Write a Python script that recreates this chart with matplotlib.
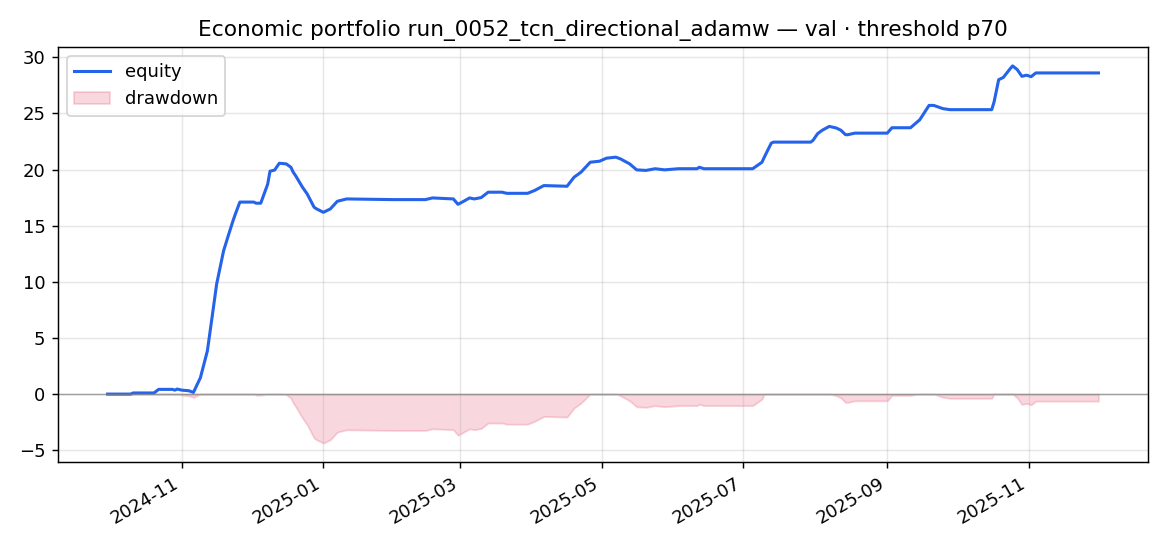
"""
Equity curve with drawdown band for one validation run.
Saves out.png
"""
import matplotlib
matplotlib.use("Agg")
import matplotlib.pyplot as plt
import matplotlib.dates as mdates
import pandas as pd

RUN = "run_0052_tcn_directional_adamw"
SPLIT = "val"
THRESH = "p70"

# equity (cumulative return, %)
dates = [
    "2024-09-30", "2024-10-10", "2024-10-11", "2024-10-20", "2024-10-22",
    "2024-10-28", "2024-10-29", "2024-10-30", "2024-11-01", "2024-11-04",
    "2024-11-06", "2024-11-09", "2024-11-12", "2024-11-14", "2024-11-16",
    "2024-11-19", "2024-11-21", "2024-11-23", "2024-11-24", "2024-11-26",
    "2024-12-02", "2024-12-03", "2024-12-05", "2024-12-08", "2024-12-09",
    "2024-12-11", "2024-12-13", "2024-12-16", "2024-12-18", "2024-12-19",
    "2024-12-20", "2024-12-23", "2024-12-25", "2024-12-28", "2024-12-29",
    "2025-01-01", "2025-01-04", "2025-01-07", "2025-01-11", "2025-01-31",
    "2025-02-14", "2025-02-17", "2025-02-26", "2025-02-28", "2025-03-02",
    "2025-03-05", "2025-03-07", "2025-03-10", "2025-03-13", "2025-03-19",
    "2025-03-21", "2025-03-30", "2025-04-02", "2025-04-06", "2025-04-16",
    "2025-04-19", "2025-04-22", "2025-04-26", "2025-04-30", "2025-05-03",
    "2025-05-07", "2025-05-09", "2025-05-13", "2025-05-16", "2025-05-20",
    "2025-05-24", "2025-05-28", "2025-06-03", "2025-06-11", "2025-06-12",
    "2025-06-14", "2025-07-05", "2025-07-09", "2025-07-10", "2025-07-13",
    "2025-07-14", "2025-07-30", "2025-07-31", "2025-08-02", "2025-08-04",
    "2025-08-07", "2025-08-10", "2025-08-12", "2025-08-14", "2025-08-15",
    "2025-08-18", "2025-09-01", "2025-09-03", "2025-09-11", "2025-09-15",
    "2025-09-19", "2025-09-21", "2025-09-25", "2025-09-28", "2025-10-16",
    "2025-10-17", "2025-10-19", "2025-10-21", "2025-10-24", "2025-10-25",
    "2025-10-27", "2025-10-29", "2025-10-31", "2025-11-02", "2025-11-04",
    "2025-12-01",
]
equity = [
    0.0, 0.0, 0.1, 0.1, 0.42,
    0.42, 0.35, 0.45, 0.35, 0.3,
    0.15, 1.46, 3.84, 6.8, 9.8,
    12.77, 14.1, 15.4, 16.0, 17.1,
    17.1, 17.0, 17.0, 18.7, 19.85,
    19.95, 20.56, 20.5, 20.2, 19.76,
    19.46, 18.42, 17.83, 16.64, 16.5,
    16.19, 16.49, 17.17, 17.38, 17.32,
    17.32, 17.47, 17.38, 16.9, 17.12,
    17.47, 17.38, 17.5, 17.98, 17.98,
    17.88, 17.88, 18.13, 18.57, 18.51,
    19.31, 19.76, 20.65, 20.74, 21.01,
    21.1, 20.95, 20.5, 19.97, 19.92,
    20.07, 19.97, 20.07, 20.07, 20.2,
    20.07, 20.07, 20.65, 21.1, 22.35,
    22.44, 22.44, 22.6, 23.2, 23.5,
    23.84, 23.7, 23.5, 23.1, 23.1,
    23.24, 23.24, 23.72, 23.72, 24.43,
    25.71, 25.71, 25.42, 25.33, 25.33,
    26.0, 28.0, 28.2, 28.99, 29.23,
    28.9, 28.3, 28.4, 28.27, 28.6,
    28.6,
]


def main():
    s = pd.Series(equity, index=pd.to_datetime(dates))
    dd = s - s.cummax()  # drawdown from running peak

    fig = plt.figure(figsize=(9.0, 4.2), dpi=130)
    ax = fig.add_axes([0.0496, 0.1538, 0.9316, 0.7601])

    ax.plot(s.index, s.values, color="#2563eb", linewidth=1.7, label="equity")
    ax.fill_between(dd.index, dd.values, 0, color="crimson", alpha=0.17,
                    label="drawdown")
    ax.axhline(0, color="gray", linewidth=0.8, alpha=0.7)

    ax.set_title(f"Economic portfolio {RUN} — {SPLIT} · threshold {THRESH}",
                 fontsize=12)
    ax.xaxis.set_major_locator(mdates.MonthLocator(bymonth=[1, 3, 5, 7, 9, 11]))
    ax.xaxis.set_major_formatter(mdates.DateFormatter("%Y-%m"))
    for lbl in ax.get_xticklabels():
        lbl.set_rotation(30)
        lbl.set_ha("right")
    ax.grid(alpha=0.3)
    ax.legend(loc="upper left")

    fig.savefig("out.png", dpi=130)
    plt.close(fig)


if __name__ == "__main__":
    main()
